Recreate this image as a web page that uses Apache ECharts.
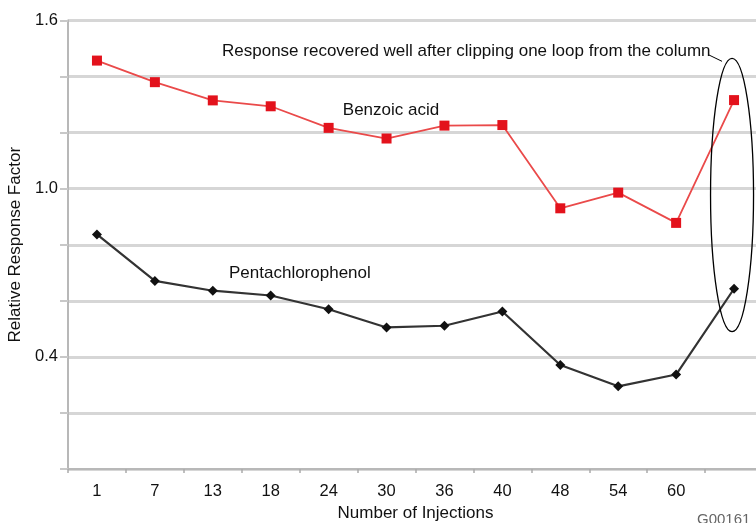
<!DOCTYPE html>
<html>
<head>
<meta charset="utf-8">
<script src="https://cdn.jsdelivr.net/npm/echarts@6/dist/echarts.min.js"></script>
<style>
html,body{margin:0;padding:0;background:#fff;}
#chart{width:756px;height:523px;}
</style>
</head>
<body>
<div id="chart"></div>
<script>
const categories = ['1','7','13','18','24','30','36','40','48','54','60',''];
const benzoicAcid = [1.457,1.380,1.315,1.294,1.217,1.179,1.225,1.227,0.930,0.986,0.878,1.316];
const pentachlorophenol = [0.837,0.671,0.636,0.619,0.570,0.505,0.511,0.562,0.371,0.295,0.337,0.643];
const yTickLabels = [0.4, 1.0, 1.6];

(function () {
const FONT = '"Liberation Sans", Arial, Helvetica, sans-serif';
const chart = echarts.init(document.getElementById('chart'));

const option = {
  animation: false,
  backgroundColor: '#fff',
  textStyle: { fontFamily: FONT },
  grid: { left: 68, top: 20.5, width: 695, height: 448.5, containLabel: false, outerBoundsMode: 'none' },
  xAxis: {
    type: 'category',
    data: categories,
    boundaryGap: true,
    name: 'Number of Injections',
    nameLocation: 'middle',
    nameGap: 36,
    nameTextStyle: { fontFamily: FONT, fontSize: 17, color: '#111' },
    axisLine: { lineStyle: { color: '#b8b8b8', width: 2 } },
    axisTick: { show: true, length: 4, lineStyle: { color: '#aaa', width: 1.5 } },
    axisLabel: { fontFamily: FONT, fontSize: 16.5, color: '#111', margin: 14 },
    splitLine: { show: false }
  },
  yAxis: {
    type: 'value',
    min: 0,
    max: 1.6,
    interval: 0.2,
    name: 'Relative Response Factor',
    nameLocation: 'middle',
    nameGap: 44,
    nameTextStyle: { fontFamily: FONT, fontSize: 17, color: '#111' },
    axisLine: { show: true, lineStyle: { color: '#b8b8b8', width: 2 } },
    axisTick: { show: true, length: 8, lineStyle: { color: '#c8c8c8', width: 2 } },
    axisLabel: {
      fontFamily: FONT, fontSize: 16.5, color: '#111', margin: 10,
      formatter: function (v) {
        for (const t of yTickLabels) { if (Math.abs(v - t) < 1e-6) return t.toFixed(1); }
        return '';
      }
    },
    splitLine: { show: true, lineStyle: { color: '#d6d6d6', width: 3 } }
  },
  series: [
    {
      name: 'Benzoic acid',
      type: 'line',
      data: benzoicAcid,
      symbol: 'rect',
      symbolSize: 10,
      lineStyle: { color: '#ea4a4a', width: 1.8 },
      itemStyle: { color: '#e3121c' },
      z: 3
    },
    {
      name: 'Pentachlorophenol',
      type: 'line',
      data: pentachlorophenol,
      symbol: 'diamond',
      symbolSize: 10,
      lineStyle: { color: '#333', width: 2.2 },
      itemStyle: { color: '#111' },
      z: 3
    }
  ]
};
chart.setOption(option);

// Annotations anchored to data coordinates
const last = categories.length - 1;
const pTop = chart.convertToPixel({ xAxisIndex: 0, yAxisIndex: 0 }, [last, 1.465]);
const pBot = chart.convertToPixel({ xAxisIndex: 0, yAxisIndex: 0 }, [last, 0.49]);
const cx = pTop[0] - 2;
const cy = (pTop[1] + pBot[1]) / 2;
const ry = (pBot[1] - pTop[1]) / 2;

chart.setOption({
  graphic: [
    {
      type: 'ellipse',
      shape: { cx: cx, cy: cy, rx: 21.5, ry: ry },
      style: { fill: 'none', stroke: '#000', lineWidth: 1.3 },
      z: 10
    },
    {
      type: 'line',
      shape: { x1: 709, y1: 55, x2: cx - 10, y2: pTop[1] + 3 },
      style: { stroke: '#000', lineWidth: 1 },
      z: 10
    },
    {
      type: 'text',
      x: 222, y: 51,
      style: { text: 'Response recovered well after clipping one loop from the column', fontFamily: FONT, fontSize: 17, fill: '#111', verticalAlign: 'middle', align: 'left' },
      z: 10
    },
    {
      type: 'text',
      x: 391, y: 110,
      style: { text: 'Benzoic acid', fontFamily: FONT, fontSize: 17, fill: '#111', verticalAlign: 'middle', align: 'center' },
      z: 10
    },
    {
      type: 'text',
      x: 229, y: 273,
      style: { text: 'Pentachlorophenol', fontFamily: FONT, fontSize: 17, fill: '#111', verticalAlign: 'middle', align: 'left' },
      z: 10
    },
    {
      type: 'text',
      x: 697, y: 520,
      style: { text: 'G00161', fontFamily: FONT, fontSize: 15, fill: '#666', verticalAlign: 'middle', align: 'left' },
      z: 10
    }
  ]
});
})();
</script>
</body>
</html>
